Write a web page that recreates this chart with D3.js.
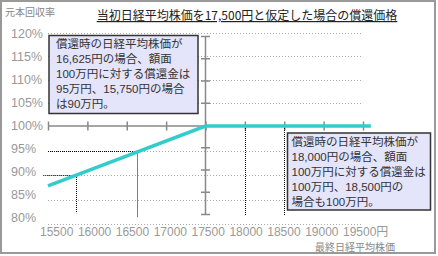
<!DOCTYPE html>
<html>
<head>
<meta charset="utf-8">
<script src="https://cdn.jsdelivr.net/npm/d3@7"></script>
<style>
  body { margin: 0; background: #fff; }
  svg { display: block; }
</style>
</head>
<body>
<div id="chart"></div>
<script>
// Chart values
const yTicks = [80, 85, 90, 95, 100, 105, 110, 115, 120];
const xTicks = [15500, 16000, 16500, 17000, 17500, 18000, 18500, 19000, 19500];
const lineStock = [15500, 17500, 19600];
const lineRate = [87.8, 100, 100];
// Dotted guide lines (stock price, rate, bottom of the vertical guide, start of horizontal guide)
const guideStock = [15850, 16625, 18000, 18500];
const guideRate = [90, 95, 100, 100];
const guideBottom = [82.2, 81.4, 81.8, 81.8];
const guideStart = [15440, 15500, null, null];
const title = "当初日経平均株価を17,500円と仮定した場合の償還価格";
const yTitle = "元本回収率";
const xTitle = "最終日経平均株価";
const note1 = ["償還時の日経平均株価が", "16,625円の場合、額面", "100万円に対する償還金は", "95万円、15,750円の場合", "は90万円。"];
const note2 = ["償還時の日経平均株価が", "18,000円の場合、額面", "100万円に対する償還金は", "100万円、18,500円の", "場合も100万円。"];

const width = 438;
const height = 256;
const jp = "'Noto Sans CJK JP', sans-serif";
const num = "'Liberation Sans', Arial, sans-serif";
const mixed = "'Liberation Sans', 'Noto Sans CJK JP', sans-serif";

const svg = d3.select("#chart")
    .append("svg")
    .attr("width", width)
    .attr("height", height);

// Scales
const x = d3.scaleLinear().domain([15500, 19500]).range([48, 363]);
const y = d3.scaleLinear().domain([80, 100, 120]).range([224, 126, 33]);
const yLabel = d3.scaleLinear().domain([80, 120]).range([217, 33]);
const yAxis = d3.scaleLinear().domain([80, 120]).range([214, 36]);
const xLabel = d3.scaleLinear().domain([15500, 19500]).range([40, 343]);

// Frame
svg.append("rect")
    .attr("x", 1).attr("y", 1)
    .attr("width", 434).attr("height", 252)
    .attr("fill", "#fff")
    .attr("stroke", "#999")
    .attr("stroke-width", 2);

// Grid lines
svg.append("g")
    .selectAll("line")
    .data(yTicks.filter(d => d !== 100))
    .enter()
    .append("line")
    .attr("x1", x(15500)).attr("x2", x(19500))
    .attr("y1", d => Math.round(y(d)) + 0.5)
    .attr("y2", d => Math.round(y(d)) + 0.5)
    .attr("stroke", "#aaa")
    .attr("stroke-dasharray", "1,2");

// Y labels
svg.append("g")
    .selectAll("text")
    .data(yTicks)
    .enter()
    .append("text")
    .attr("x", 11)
    .attr("y", d => yLabel(d) + 4.5)
    .attr("font-family", num)
    .attr("font-size", "12.5px")
    .attr("fill", "#999")
    .text(d => d + "%");

// Horizontal axis on 100%
svg.append("g")
    .attr("transform", `translate(0, ${y(100)})`)
    .call(d3.axisBottom(x).tickValues(xTicks).tickSize(4.5).tickFormat(""))
    .call(g => g.select(".domain").attr("stroke", "#888").attr("stroke-width", 1.5).attr("d", `M${x(15500)},0H${x(19500)}`))
    .call(g => g.selectAll(".tick line").attr("stroke", "#888").attr("stroke-width", 1.5).attr("y1", -4.5));

// Vertical axis at 17500
svg.append("g")
    .attr("transform", `translate(${x(17500)}, 0)`)
    .call(d3.axisRight(yAxis).tickValues(yTicks.filter(d => d !== 100)).tickSize(4.5).tickFormat(""))
    .call(g => g.select(".domain").attr("stroke", "#888").attr("stroke-width", 1.5).attr("d", `M0,${yAxis(120)}V${yAxis(80)}`))
    .call(g => g.selectAll(".tick line").attr("stroke", "#888").attr("stroke-width", 1.5).attr("x1", -4.5));

// X labels
svg.append("g")
    .selectAll("text")
    .data(xTicks)
    .enter()
    .append("text")
    .attr("x", d => xLabel(d))
    .attr("y", 236)
    .attr("font-family", mixed)
    .attr("font-size", "12px")
    .attr("fill", "#999")
    .text(d => d === 19500 ? d + "円" : d);

// Dotted guide lines
const guides = guideStock.map((s, i) => ({ s, r: guideRate[i], b: guideBottom[i], start: guideStart[i] }));
const guideG = svg.append("g")
    .attr("stroke", "#000")
    .attr("stroke-dasharray", "1,1");
guideG.selectAll(".v")
    .data(guides)
    .enter()
    .append("line")
    .attr("x1", d => Math.round(x(d.s)) + 0.5).attr("x2", d => Math.round(x(d.s)) + 0.5)
    .attr("y1", d => y(d.r)).attr("y2", d => y(d.b));
guideG.selectAll(".h")
    .data(guides.filter(d => d.start !== null))
    .enter()
    .append("line")
    .attr("x1", d => x(d.start)).attr("x2", d => x(d.s))
    .attr("y1", d => Math.round(y(d.r)) + 0.5).attr("y2", d => Math.round(y(d.r)) + 0.5);

// Redemption line
const line = d3.line()
    .x(d => x(d[0]))
    .y(d => y(d[1]));
svg.append("path")
    .datum(lineStock.map((s, i) => [s, lineRate[i]]))
    .attr("d", line)
    .attr("fill", "none")
    .attr("stroke", "#33cccc")
    .attr("stroke-width", 3.5);

// Note boxes
function addNote(lines, box) {
    svg.append("rect")
        .attr("x", box.x).attr("y", box.y)
        .attr("width", box.w).attr("height", box.h)
        .attr("fill", "#e4e4fb")
        .attr("stroke", "#333")
        .attr("stroke-width", 1.5);
    svg.append("g")
        .selectAll("text")
        .data(lines)
        .enter()
        .append("text")
        .attr("x", box.x + box.pad)
        .attr("y", (d, i) => box.y + 12.5 + i * 15)
        .attr("font-family", mixed)
        .attr("font-size", "11.5px")
        .attr("fill", "#333")
        .text(d => d);
}
addNote(note1, { x: 49, y: 35.5, w: 149, h: 78, pad: 7 });
addNote(note2, { x: 287.5, y: 133, w: 143, h: 77, pad: 4 });

// Titles
svg.append("text")
    .attr("x", 247)
    .attr("y", 20)
    .attr("text-anchor", "middle")
    .attr("font-family", jp)
    .attr("font-size", "12px")
    .attr("fill", "#222")
    .style("text-decoration", "underline")
    .text(title);

svg.append("text")
    .attr("x", 5)
    .attr("y", 16)
    .attr("font-family", jp)
    .attr("font-size", "10px")
    .attr("fill", "#888")
    .text(yTitle);

svg.append("text")
    .attr("x", 395)
    .attr("y", 250.5)
    .attr("text-anchor", "end")
    .attr("font-family", jp)
    .attr("font-size", "10px")
    .attr("fill", "#888")
    .text(xTitle);
</script>
</body>
</html>
